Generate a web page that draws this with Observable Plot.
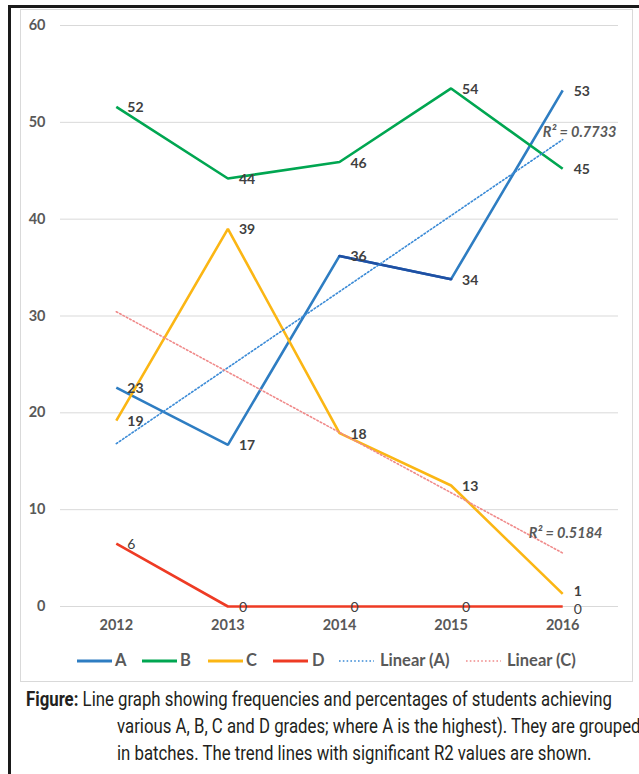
<!DOCTYPE html>
<html>
<head>
<meta charset="utf-8">
<script src="https://cdn.jsdelivr.net/npm/d3@7"></script>
<script src="https://cdn.jsdelivr.net/npm/@observablehq/plot@0.6"></script>
<style>
  html, body { margin: 0; padding: 0; background: #fff; overflow: hidden; }
  #frame { position: absolute; left: 8px; top: 5px; width: 700px; height: 800px;
           border-left: 3px solid #1a1a1a; border-top: 3px solid #1a1a1a; }
  #box { position: absolute; left: 20px; top: 9px; width: 611px; height: 671px;
         border: 1px solid #d9d9d9; background: #fff; }
  #chart { position: absolute; left: 0; top: 0; }
  #legend { position: absolute; left: 0; top: 641px; width: 611px; height: 20px;
            font-family: Lato, "Open Sans", sans-serif; font-size: 16.5px; font-weight: bold; color: #595959; }
  #legend svg, #legend span { position: absolute; }
  #caption { position: absolute; left: 26px; top: 686px;
             font-family: Roboto, "Noto Sans", sans-serif;
             font-size: 20px; line-height: 27px; color: #231f20; white-space: nowrap; }
  #caption div { transform-origin: 0 50%; width: max-content; }
  #caption .ind { margin-left: 91px; }
</style>
</head>
<body>
<div id="frame"></div>
<div id="box">
  <div id="chart"></div>
  <div id="legend"></div>
</div>
<div id="caption">
  <div id="cap1"><b>Figure:</b> Line graph showing frequencies and percentages of students achieving</div>
  <div class="ind">various A, B, C and D grades; where A is the highest). They are grouped</div>
  <div class="ind">in batches. The trend lines with significant R2 values are shown.</div>
</div>
<script>
const years = [2012, 2013, 2014, 2015, 2016];
const seriesNames = ["A", "B", "C", "D"];
const valuesA = [22.6, 16.7, 36.2, 33.8, 53.3];
const valuesB = [51.6, 44.2, 45.9, 53.5, 45.2];
const valuesC = [19.2, 39.0, 17.9, 12.5, 1.3];
const valuesD = [6.5, 0, 0, 0, 0];
const labelsA = ["23", "17", "36", "34", "53"];
const labelsB = ["52", "44", "46", "54", "45"];
const labelsC = ["19", "39", "18", "13", "1"];
const labelsD = ["6", "0", "0", "0", "0"];
const yTicks = [0, 10, 20, 30, 40, 50, 60];
const trendSeries = ["A", "C"];
const trendR2 = ["0.7733", "0.5184"];
const legendNames = ["A", "B", "C", "D", "Linear (A)", "Linear (C)"];

const colors = { A: "#2e7dc2", B: "#00a651", C: "#fbb614", D: "#ee3b24" };
const trendColors = { A: "#3a8ad6", C: "#f08a8a" };

const allValues = [valuesA, valuesB, valuesC, valuesD];
const allLabels = [labelsA, labelsB, labelsC, labelsD];
const data = [];
seriesNames.forEach((s, i) => years.forEach((yr, j) => {
  data.push({ series: s, year: yr, value: allValues[i][j], label: allLabels[i][j] });
}));

// least-squares end points for R² label anchoring (derived from data)
function fitEnd(s) {
  const pts = data.filter(d => d.series === s);
  const mx = d3.mean(pts, d => d.year), my = d3.mean(pts, d => d.value);
  const b = d3.sum(pts, d => (d.year - mx) * (d.value - my)) / d3.sum(pts, d => (d.year - mx) ** 2);
  const xe = d3.max(pts, d => d.year);
  return { year: xe, value: my + b * (xe - mx) };
}
const r2Data = trendSeries.map((s, i) => ({ series: s, r2: trendR2[i], ...fitEnd(s) }));

const isC2016 = d => d.series === "C" && d.year === 2016;
const isD2016 = d => d.series === "D" && d.year === 2016;

const chart = Plot.plot({
  width: 611,
  height: 632,
  marginLeft: 39,
  marginRight: 14,
  marginTop: 15,
  marginBottom: 36,
  style: { fontFamily: "Lato, 'Open Sans', sans-serif", color: "#595959", background: "#fff", fontWeight: "bold" },
  x: { type: "linear", domain: [2011.5, 2016.5], label: null },
  y: { domain: [0, 60], label: null },
  marks: [
    Plot.gridY(yTicks, { stroke: "#d9d9d9", strokeOpacity: 1, strokeWidth: 1 }),
    Plot.axisY(yTicks, { tickSize: 0, tickPadding: 15, fontSize: 14.5, label: null }),
    Plot.axisX(years, { tickSize: 0, tickPadding: 13, fontSize: 14.5, tickFormat: d => String(d), label: null }),
    Plot.line(data, { x: "year", y: "value", z: "series", stroke: d => colors[d.series], strokeWidth: 2.6, strokeLinejoin: "miter", strokeLinecap: "butt" }),
    Plot.line(data, { filter: d => d.series === "A" && (d.year === 2014 || d.year === 2015), x: "year", y: "value", stroke: "#1f4fa3", strokeWidth: 2.6 }),
    Plot.linearRegressionY(data, { filter: d => d.series === "A", x: "year", y: "value", ci: 0, stroke: trendColors.A, strokeWidth: 1.6, strokeDasharray: "1.6,2.2" }),
    Plot.linearRegressionY(data, { filter: d => d.series === "C", x: "year", y: "value", ci: 0, stroke: trendColors.C, strokeWidth: 1.6, strokeDasharray: "1.6,2.2" }),
    Plot.text(data, { filter: d => d.series !== "D" && !isC2016(d), x: "year", y: "value", text: "label", textAnchor: "start", dx: 11, dy: 1, fontSize: 14, fill: "#404040", fontWeight: "bold" }),
    Plot.text(data, { filter: isC2016, x: "year", y: "value", text: "label", textAnchor: "start", dx: 11, dy: -2, fontSize: 14, fill: "#404040", fontWeight: "bold" }),
    Plot.text(data, { filter: d => d.series === "D" && !isD2016(d), x: "year", y: "value", text: "label", textAnchor: "start", dx: 11, dy: 1, fontSize: 14, fill: "#404040", fontWeight: "normal" }),
    Plot.text(data, { filter: isD2016, x: "year", y: "value", text: "label", textAnchor: "start", dx: 11, dy: 3, fontSize: 14, fill: "#404040", fontWeight: "normal" }),
    Plot.text(r2Data, { filter: d => d.series === "A", x: "year", y: "value", text: d => "R² = " + d.r2, textAnchor: "start", dx: -20, dy: -7, fontSize: 14.5, fontStyle: "italic", fontWeight: "bold", fill: "#595959" }),
    Plot.text(r2Data, { filter: d => d.series === "C", x: "year", y: "value", text: d => "R² = " + d.r2, textAnchor: "start", dx: -34, dy: -20, fontSize: 14.5, fontStyle: "italic", fontWeight: "bold", fill: "#595959" })
  ]
});
document.getElementById("chart").appendChild(chart);

// legend (positions in box pixels)
const swatchX = [56, 121, 187, 252, 318, 445];
const labelX = [94, 159, 225, 291, 359, 486];
const legend = document.getElementById("legend");
legendNames.forEach((name, i) => {
  const isTrend = i >= 4;
  const key = isTrend ? trendSeries[i - 4] : name;
  const col = isTrend ? trendColors[key] : colors[key];
  const w = 35;
  const sw = document.createElementNS("http://www.w3.org/2000/svg", "svg");
  sw.setAttribute("width", w); sw.setAttribute("height", 10);
  sw.style.left = swatchX[i] + "px"; sw.style.top = "5px";
  sw.innerHTML = `<line x1="0" x2="${w}" y1="5" y2="5" stroke="${col}" stroke-width="${isTrend ? 1.6 : 3}" ${isTrend ? 'stroke-dasharray="1.6,2.2"' : ""}/>`;
  const sp = document.createElement("span");
  sp.textContent = name;
  sp.style.left = labelX[i] + "px"; sp.style.top = "-1px";
  legend.appendChild(sw); legend.appendChild(sp);
});

// fit the caption to the reference line width (condensed look)
const cap1 = document.getElementById("cap1");
const k = 586 / cap1.getBoundingClientRect().width;
document.querySelectorAll("#caption div").forEach(el => { el.style.transform = `scaleX(${k})`; });
</script>
</body>
</html>
